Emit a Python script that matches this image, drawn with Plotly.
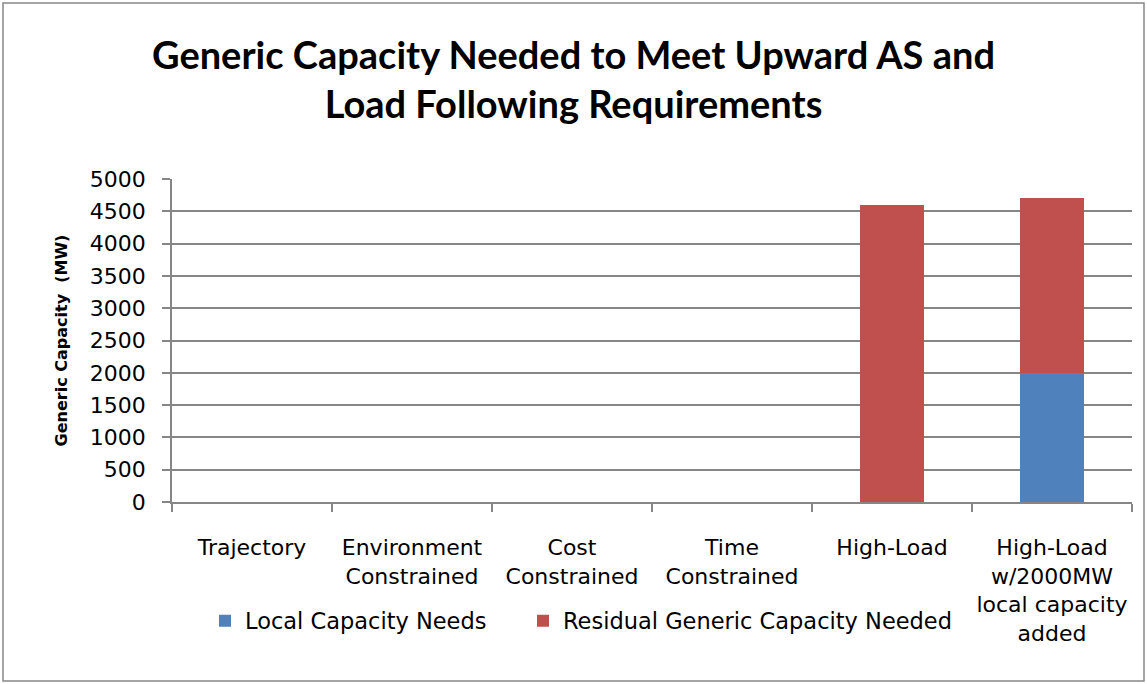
import plotly.graph_objects as go

categories = ["Trajectory", "Environment<br>Constrained", "Cost<br>Constrained",
              "Time<br>Constrained", "High-Load",
              "High-Load<br>w/2000MW<br>local capacity<br>added"]
local_capacity = [0, 0, 0, 0, 0, 2000]
residual_generic = [0, 0, 0, 0, 4600, 2700]
y_ticks = [0, 500, 1000, 1500, 2000, 2500, 3000, 3500, 4000, 4500, 5000]

TFONT = "Lato"
FONT = "DejaVu Sans"
fig = go.Figure()
fig.add_trace(go.Bar(x=categories, y=local_capacity, name="Local Capacity Needs",
                     marker=dict(color="#4F81BD", line=dict(width=0)), legend="legend"))
fig.add_trace(go.Bar(x=categories, y=residual_generic, name="Residual Generic Capacity Needed",
                     marker=dict(color="#C0504D", line=dict(width=0)), legend="legend2"))

L, R, T, B = 172, 1147 - 1132, 179, 684 - 502
W, H = 1147 - L - R, 684 - T - B

leg_common = dict(orientation="h", xanchor="left", y=(502 - 621) / H, yanchor="middle",
                  font=dict(family=FONT, size=22.5), bgcolor="rgba(0,0,0,0)")

fig.update_layout(
    width=1147, height=684,
    barmode="stack", bargap=0.6,
    paper_bgcolor="white", plot_bgcolor="white",
    margin=dict(l=L, r=R, t=T, b=B, autoexpand=False),
    font=dict(family=FONT, size=21, color="black"),
    title=dict(text="<b>Generic Capacity Needed to Meet Upward AS and<br>Load Following Requirements</b>",
               x=0.5, xanchor="center", y=1 - 69 / 684, yanchor="middle",
               font=dict(family=TFONT, size=38, color="black")),
    showlegend=True,
    legend=dict(x=(205 - L) / W, **leg_common),
    legend2=dict(x=(523 - L) / W, **leg_common),
    xaxis=dict(showline=True, linecolor="#868686", linewidth=1.5, ticks="outside",
               tickson="boundaries", ticklen=8, tickcolor="#868686", tickwidth=1.5,
               showgrid=False, tickfont=dict(family=FONT, size=22), ticklabelstandoff=25,
               tickangle=0),
    yaxis=dict(range=[0, 5000], tickvals=y_ticks, showline=True, linecolor="#868686",
               linewidth=1.5, ticks="outside", ticklen=8, tickcolor="#868686", tickwidth=1.5,
               showgrid=True, gridcolor="#868686", gridwidth=1.5, zeroline=False,
               tickfont=dict(family=FONT, size=22), ticklabelstandoff=12,
               title=dict(text="<b>Generic Capacity  (MW)</b>", font=dict(family=FONT, size=16),
                          standoff=18)),
)
fig.add_shape(type="rect", xref="paper", yref="paper",
              x0=(3 - L) / W, x1=(1144 - L) / W, y0=(502 - 681) / H, y1=(502 - 3) / H,
              line=dict(color="#868686", width=1.5), fillcolor="rgba(0,0,0,0)", layer="below")
fig.write_html("out.html", config={"displayModeBar": False},
               post_script="document.body.style.margin='0';")
